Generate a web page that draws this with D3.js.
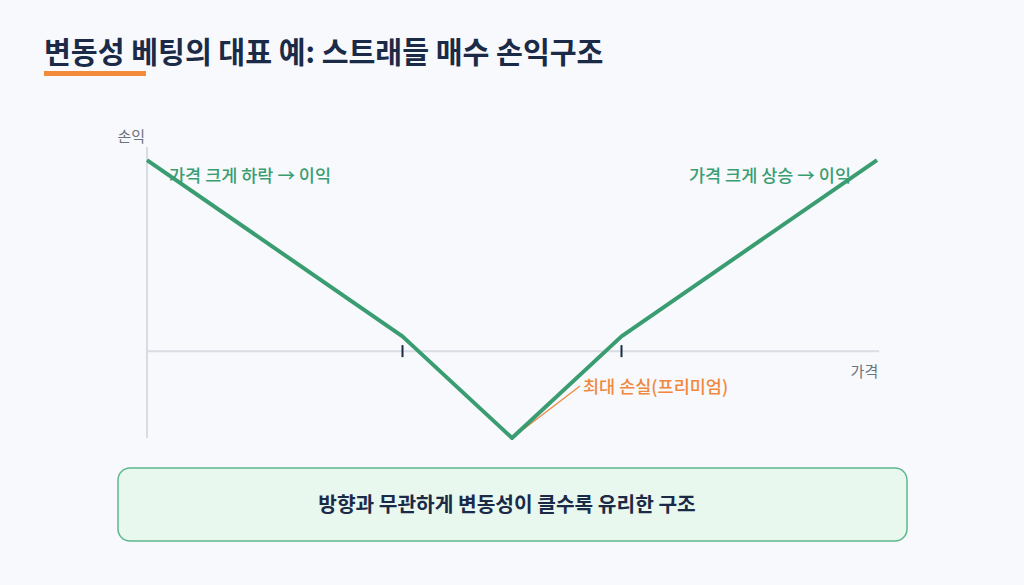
<!DOCTYPE html>
<html><head><meta charset="utf-8">
<script src="https://cdn.jsdelivr.net/npm/d3@7"></script>
<style>
html,body{margin:0;padding:0;background:#f7f9fc;}
svg{display:block;font-family:"Noto Sans CJK KR","Noto Sans",sans-serif;}
</style></head>
<body>
<svg id="c" width="1024" height="585"></svg>
<script>
const title = "변동성 베팅의 대표 예: 스트래들 매수 손익구조";
const prices = [0, 35, 50, 65, 100];
const payoff = [22, 1.7, -10, 1.7, 22];
const strikes = [35, 65];
const yLabel = "손익";
const xLabel = "가격";
const leftNote = "가격 크게 하락 → 이익";
const rightNote = "가격 크게 상승 → 이익";
const lossNote = "최대 손실(프리미엄)";
const summary = "방향과 무관하게 변동성이 클수록 유리한 구조";

const svg = d3.select("#c");
svg.append("rect").attr("width",1024).attr("height",585).attr("fill","#f7f9fc");

svg.append("text").attr("x",44).attr("y",63).attr("font-size",29.2).attr("font-weight",700)
  .attr("fill","#1b2a47").text(title);
svg.append("rect").attr("x",44).attr("y",71).attr("width",102).attr("height",5).attr("fill","#f28c3a");

const x = d3.scaleLinear().domain([0,100]).range([147,877]);
const y = d3.scaleLinear().domain([-10,23.5]).range([438,147]);

// axes
svg.append("line").attr("x1",x(0)).attr("x2",x(0)).attr("y1",y(23.5)).attr("y2",y(-10))
  .attr("stroke","#d9dde3").attr("stroke-width",2);
svg.append("line").attr("x1",x(0)).attr("x2",x(100.3)).attr("y1",y(0)).attr("y2",y(0))
  .attr("stroke","#d9dde3").attr("stroke-width",2);
svg.append("text").attr("x",x(0)-2).attr("y",y(23.5)-5).attr("text-anchor","end")
  .attr("font-size",15).attr("fill","#6b7280").text(yLabel);
svg.append("text").attr("x",x(100.3)-1).attr("y",y(0)+26).attr("text-anchor","end")
  .attr("font-size",15).attr("fill","#6b7280").text(xLabel);

svg.selectAll(".tick").data(strikes).join("line")
  .attr("x1",d=>x(d)).attr("x2",d=>x(d)).attr("y1",y(0)-6).attr("y2",y(0)+6)
  .attr("stroke","#1b2a47").attr("stroke-width",2);

// leader
const lossIdx = payoff.indexOf(d3.min(payoff));
svg.append("line").attr("x1",x(prices[lossIdx])).attr("y1",y(payoff[lossIdx]))
  .attr("x2",580).attr("y2",386).attr("stroke","#f0883e").attr("stroke-width",1.2);

// payoff line
const line = d3.line().x((d,i)=>x(prices[i])).y(d=>y(d));
svg.append("path").attr("d",line(payoff)).attr("fill","none")
  .attr("stroke","#3a9d72").attr("stroke-width",4).attr("stroke-linejoin","round");

svg.append("text").attr("x",169).attr("y",182).attr("font-size",17.5).attr("font-weight",500).attr("fill","#3a9d72").text(leftNote);
svg.append("text").attr("x",851).attr("y",182).attr("text-anchor","end").attr("font-size",17.5).attr("font-weight",500).attr("fill","#3a9d72").text(rightNote);
svg.append("text").attr("x",583).attr("y",393).attr("font-size",17.5).attr("font-weight",500).attr("fill","#f0883e").text(lossNote);

// summary box
svg.append("rect").attr("x",118).attr("y",468).attr("width",789).attr("height",73).attr("rx",12)
  .attr("fill","#e8f8ef").attr("stroke","#5cb88a").attr("stroke-width",1.5);
svg.append("text").attr("x",507).attr("y",512).attr("text-anchor","middle").attr("font-size",20.3)
  .attr("font-weight",700).attr("fill","#1b2a47").text(summary);
</script>
</body></html>
